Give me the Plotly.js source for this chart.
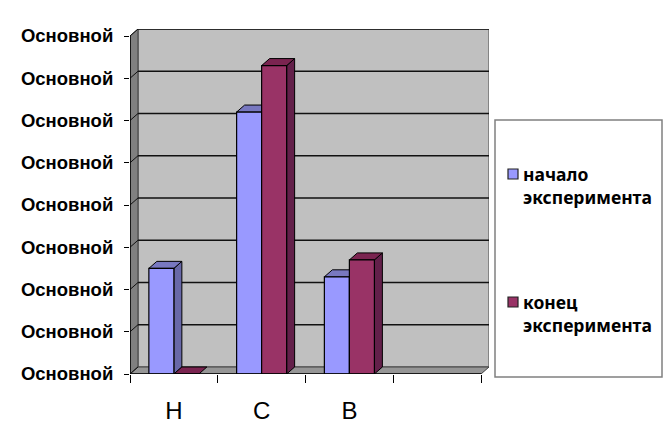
<!DOCTYPE html>
<html><head><meta charset="utf-8">
<script src="https://cdn.plot.ly/plotly-3.0.1.min.js"></script>
<style>html,body{margin:0;padding:0;background:#fff}</style></head>
<body><div id="chart" style="width:665px;height:437px"></div>
<script>
const categories = ['Н', 'С', 'В', ' '];
const seriesStart = [2.5, 6.2, 2.3, null];
const seriesEnd = [0, 7.3, 2.7, null];
const nameStart = 'начало<br>эксперимента';
const nameEnd = 'конец<br>эксперимента';
const yTickValues = [0, 1, 2, 3, 4, 5, 6, 7, 8];
const yTickLabel = 'Основной';

const barW = 0.285, depthX = 0.091, depthY = 0.166;
const xMin = -0.5, xMax = 3.5, yMax = 8;
const colorStart = '#9999ff', colorEnd = '#993366';
const sh = [];
function poly(pts, fill, lw, lc) {
  sh.push({type:'path', xref:'x', yref:'y', layer:'below',
    path:'M' + pts.map(p => p[0] + ',' + p[1]).join('L') + 'Z',
    fillcolor:fill, line:{color:lc || '#000', width:lw}});
}
function seg(x0, y0, x1, y1, c, w, layer) {
  sh.push({type:'line', xref:'x', yref:'y', layer:layer || 'below', x0, y0, x1, y1, line:{color:c, width:w}});
}
// back wall, side wall, floor
poly([[xMin+depthX,depthY],[xMax+depthX,depthY],[xMax+depthX,yMax+depthY],[xMin+depthX,yMax+depthY]], '#c0c0c0', 1.5, '#707070');
poly([[xMin,0],[xMin+depthX,depthY],[xMin+depthX,yMax+depthY],[xMin,yMax]], '#808080', 1, '#404040');
poly([[xMin,0],[xMax,0],[xMax+depthX,depthY],[xMin+depthX,depthY]], '#969696', 1, '#404040');
// gridlines and their diagonal links on the side wall
yTickValues.forEach(v => {
  if (v > 0) seg(xMin+depthX, v+depthY, xMax+depthX, v+depthY, '#111', 1.5);
  seg(xMin, v, xMin+depthX, v+depthY, '#111', 1);
});
// 3D faces of the bars
function faces(vals, off, topC, sideC) {
  vals.forEach((v, i) => {
    if (v === null) return;
    const a = i + off, b = a + barW;
    if (v > 0) poly([[b,0],[b+depthX,depthY],[b+depthX,v+depthY],[b,v]], sideC, 1);
    poly([[a,v],[b,v],[b+depthX,v+depthY],[a+depthX,v+depthY]], topC, 1);
  });
}
faces(seriesStart, -barW, '#7878c0', '#6868a8');
faces(seriesEnd, 0, '#7a2450', '#63204a');
// front axis lines
seg(xMin, 0, xMin, yMax, '#000', 1.5, 'above');
seg(xMin, 0, xMax, 0, '#000', 1.5, 'above');

// legend: box, swatches and text placed in plot-area fractions
const W = 359, H = 345, L = 130, B = 374;
const fx = px => (px - L) / W, fy = py => (B - py) / H;
sh.push({type:'rect', xref:'paper', yref:'paper', layer:'below',
  x0:fx(495), x1:fx(662), y0:fy(377), y1:fy(120), fillcolor:'#fff', line:{color:'#808080', width:1.5}});
function swatch(top, color) {
  sh.push({type:'rect', xref:'paper', yref:'paper', layer:'above',
    x0:fx(508), x1:fx(518), y0:fy(top+10), y1:fy(top), fillcolor:color, line:{color:'#222', width:1.2}});
}
swatch(169, colorStart);
swatch(297, colorEnd);
const legendText = (text, py) => ({xref:'paper', yref:'paper', x:fx(522), y:fy(py), xanchor:'left', yanchor:'middle',
  align:'left', text, showarrow:false, borderpad:0,
  font:{family:'Noto Sans', size:17.5, color:'#000', weight:'bold'}});

const trace = (name, y, off, color) => ({type:'bar', name, x:categories, y, width:barW, offset:off,
  marker:{color, line:{color:'#000', width:1.2}}, hoverinfo:'skip'});

Plotly.newPlot('chart', [
  trace(nameStart, seriesStart, -barW, colorStart),
  trace(nameEnd, seriesEnd, 0, colorEnd)
], {
  width:665, height:437, paper_bgcolor:'#fff', plot_bgcolor:'rgba(0,0,0,0)',
  margin:{l:L, r:665-L-W, t:B-H, b:437-B, autoexpand:false},
  barmode:'overlay', showlegend:false,
  xaxis:{type:'category', categoryorder:'array', categoryarray:categories, tickson:'boundaries',
    range:[xMin, xMax+depthX], tickmode:'array', tickvals:categories, ticktext:categories,
    ticks:'outside', ticklen:8, tickcolor:'#000', tickwidth:1, showgrid:false, zeroline:false, showline:false,
    ticklabelstandoff:20, tickfont:{family:'Liberation Sans, Arial', size:24, color:'#000'}},
  yaxis:{range:[0, yMax+depthY], tickmode:'array', tickvals:yTickValues,
    ticktext:yTickValues.map(() => yTickLabel), ticks:'outside', ticklen:5, tickcolor:'#000', tickwidth:1,
    showgrid:false, zeroline:false, showline:false, ticklabelstandoff:7,
    tickfont:{family:'Liberation Sans, Arial', size:18.5, color:'#000', weight:'bold'}},
  annotations:[legendText(nameStart, 185), legendText(nameEnd, 313)],
  shapes:sh
}, {displayModeBar:false, staticPlot:true});
</script></body></html>
